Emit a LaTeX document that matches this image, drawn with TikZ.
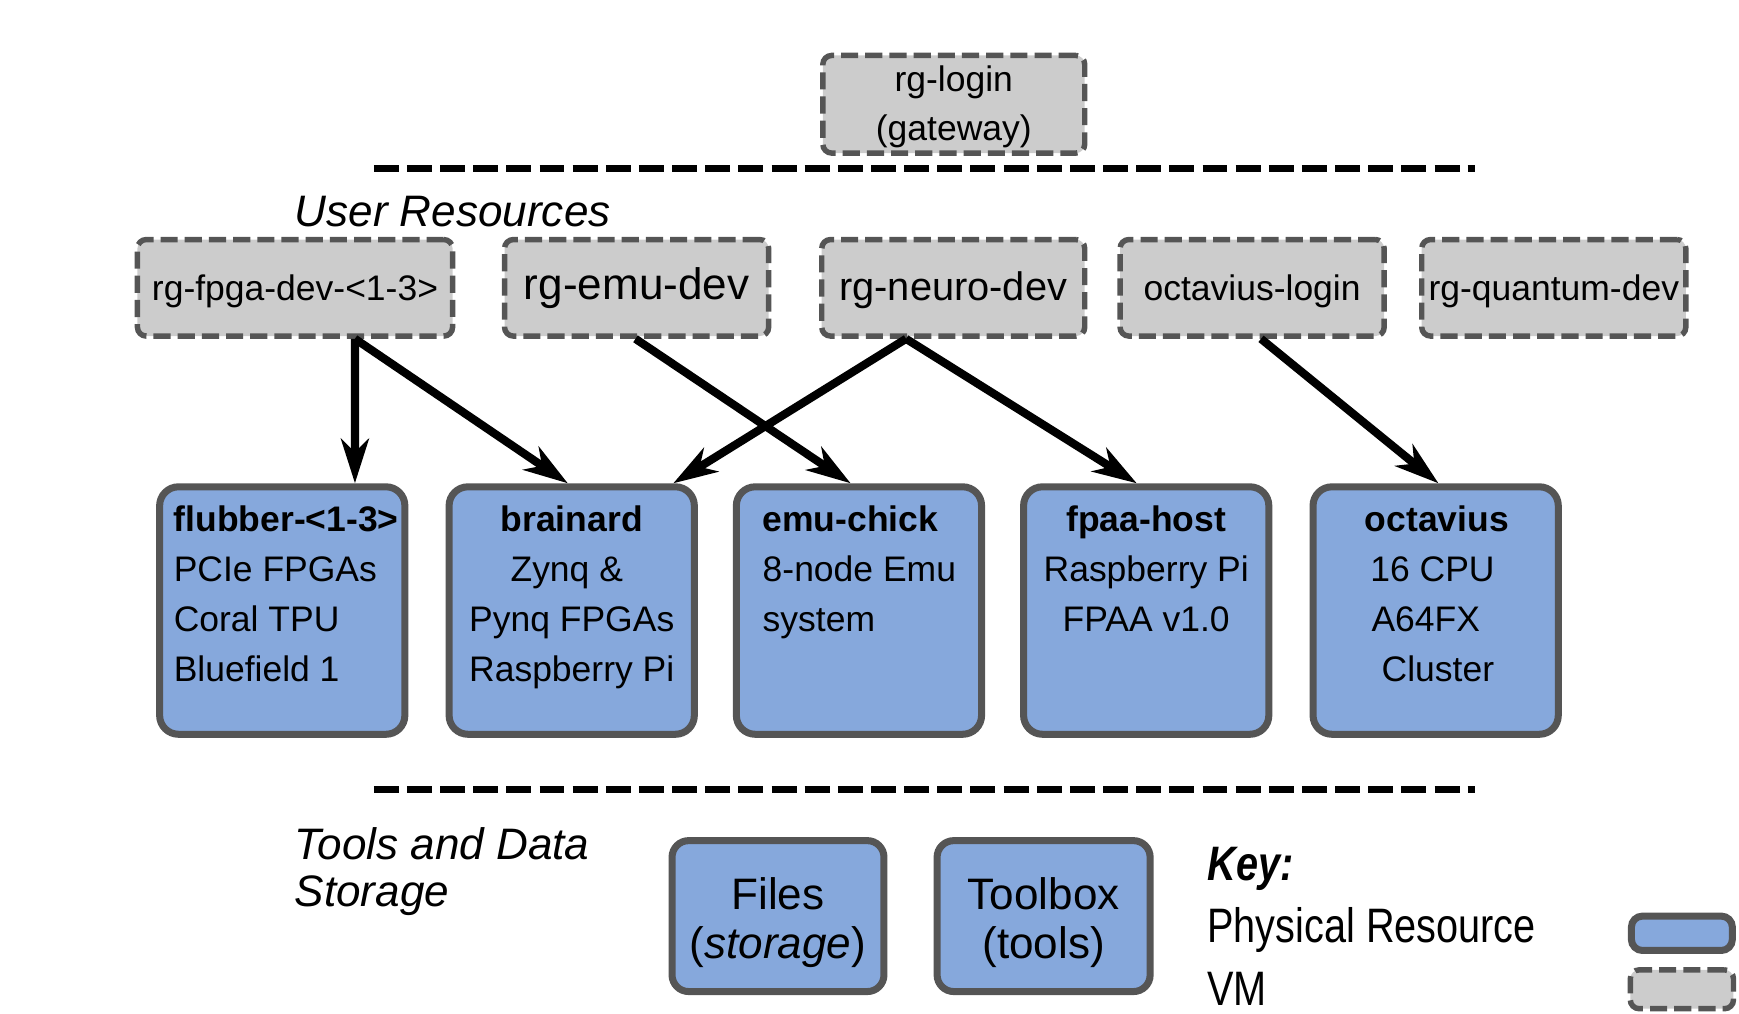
\documentclass[tikz,border=0pt]{standalone}
\usepackage{fontspec}
\setmainfont{Liberation Sans}
\newfontfamily\narrowfont[FakeStretch=0.82]{Liberation Sans}
\usetikzlibrary{arrows.meta}
\definecolor{physblue}{RGB}{134,168,220}
\definecolor{vmgray}{RGB}{204,204,204}
\definecolor{bord}{RGB}{85,85,85}
\begin{document}
\begin{tikzpicture}[x=0.01cm, y=-0.01cm,
  fA/.style={font=\fontsize{9.1}{12.8}\selectfont},
  fB/.style={font=\fontsize{10.2}{13}\selectfont},
  fC/.style={font=\fontsize{11.3}{12.5}\selectfont},
  fkey/.style={font=\narrowfont\fontsize{12.4}{14}\selectfont},
  phys/.style={draw=bord, fill=physblue, line width=1.8pt, rounded corners=0.17cm,
    minimum width=2.21cm, minimum height=2.23cm, inner sep=0pt},
  vm/.style={draw=bord, fill=vmgray, line width=1.4pt, dash pattern=on 4.4pt off 1.8pt,
    rounded corners=0.08cm, minimum width=2.38cm, minimum height=0.87cm, inner sep=0pt},
  vmA/.style={vm, fA, text height=6.8pt, text depth=0.54pt},
  ptxt/.style={fA, inner sep=0pt},
  lbl/.style={inner sep=0pt},
  arr/.style={line width=2.1pt, -{Stealth[length=0.4cm, width=0.25cm, inset=0.12cm]}},
  sep/.style={line width=1.8pt, dash pattern=on 6.4pt off 2.1pt}
]
\useasboundingbox (0,0) rectangle (1568,914);

% gateway
\node[vm, minimum width=2.36cm, minimum height=0.88cm] (login) at (860,94) {};
\node[lbl, align=center, anchor=north, font=\fontsize{9.1}{12.5}\selectfont]
  (logint) at (860,51) {\strut rg-login\\(gateway)};

% separators
\coordinate (s1a) at (337,152);
\coordinate (s1b) at (1330,152);
\draw[sep] (s1a) -- (s1b);
\coordinate (s2a) at (337,712);
\coordinate (s2b) at (1330,712);
\draw[sep] (s2a) -- (s2b);

% section labels
\node[lbl, fC, anchor=base west] (userres) at (265,204) {\itshape User Resources};
\node[lbl, align=left, anchor=north west, font=\fontsize{11.3}{12.2}\selectfont\itshape]
  (toolsdata) at (265,744) {\strut Tools and Data\\Storage};

% VM row
\node[vmA, minimum width=2.84cm] (fpga) at (266,259.5) {rg-fpga-dev-<1-3>};
\node[vm, fC, text height=8.4pt, text depth=2.2pt] (emudev) at (574,259.5) {rg-emu-dev};
\node[vm, fB, minimum width=2.37cm, text height=7.6pt, text depth=1.34pt] (neuro) at (859.5,259.5) {rg-neuro-dev};
\node[vmA] (octlogin) at (1129,259.5) {octavius-login};
\node[vmA] (quantum) at (1401,259.5) {rg-quantum-dev};

% physical row
\node[phys] (flub) at (254.5,550.5) {};
\node[phys] (brain) at (515.5,550.5) {};
\node[phys] (emuchick) at (774.5,550.5) {};
\node[phys] (fpaa) at (1033.5,550.5) {};
\node[phys] (oct) at (1294.5,550.5) {};

\node[ptxt, align=left, anchor=north west] (flubt) at (156,447)
  {\strut\textbf{flubber-<1-3>}\\PCIe FPGAs\\Coral TPU\\Bluefield 1};
\node[ptxt, align=center, anchor=north] (braint) at (515.5,447)
  {\strut\textbf{brainard}\\Zynq \&\kern0.278em\\Pynq FPGAs\\Raspberry Pi};
\node[ptxt, align=left, anchor=north west] (emuchickt) at (687,447)
  {\strut\textbf{emu-chick}\\8-node Emu\\system};
\node[ptxt, align=center, anchor=north] (fpaat) at (1033.5,447)
  {\strut\textbf{fpaa-host}\\Raspberry Pi\\FPAA v1.0};
\node[ptxt, align=left, anchor=north west] (octt) at (1230,447)
  {\strut\textbf{octavius}\\\hspace*{1.4pt}16 CPU\\\hspace*{1.7pt}A64FX\\\hspace*{4.3pt}Cluster};

% arrows
\draw[arr] ([xshift=0.54cm]fpga.south) -- ([xshift=0.655cm]flub.north);
\draw[arr] ([xshift=0.54cm]fpga.south) -- ([xshift=-0.035cm]brain.north);
\draw[arr] ([xshift=-0.01cm]emudev.south) -- ([xshift=-0.075cm]emuchick.north);
\draw[arr] ([xshift=-0.425cm]neuro.south) -- ([xshift=0.915cm]brain.north);
\draw[arr] ([xshift=-0.425cm]neuro.south) -- ([xshift=-0.085cm]fpaa.north);
\draw[arr] ([xshift=0.08cm]octlogin.south) -- ([xshift=0.025cm]oct.north);

% storage
\node[phys, minimum width=1.91cm, minimum height=1.36cm, rounded corners=0.15cm] (files) at (701.5,826) {};
\node[lbl, align=center, anchor=north, font=\fontsize{11.3}{12.5}\selectfont]
  (filest) at (701.5,789) {\strut Files\\(\textit{storage})};
\node[phys, minimum width=1.92cm, minimum height=1.36cm, rounded corners=0.15cm] (toolbox) at (941,826) {};
\node[lbl, align=center, anchor=north, font=\fontsize{11.3}{12.5}\selectfont]
  (toolboxt) at (941,789) {\strut Toolbox\\(tools)};

% key
\node[lbl, fkey, anchor=base west] (key) at (1088,794) {\bfseries\itshape Key:};
\node[lbl, fkey, anchor=base west] (keyphystxt) at (1088,850) {Physical Resource};
\node[lbl, fkey, anchor=base west] (keyvmtxt) at (1088,907) {VM};
\node[phys, minimum width=0.91cm, minimum height=0.31cm, rounded corners=0.1cm] (keyphys) at (1516.5,841.5) {};
\node[vm, minimum width=0.93cm, minimum height=0.35cm] (keyvm) at (1516.5,892) {};
\end{tikzpicture}
\end{document}
